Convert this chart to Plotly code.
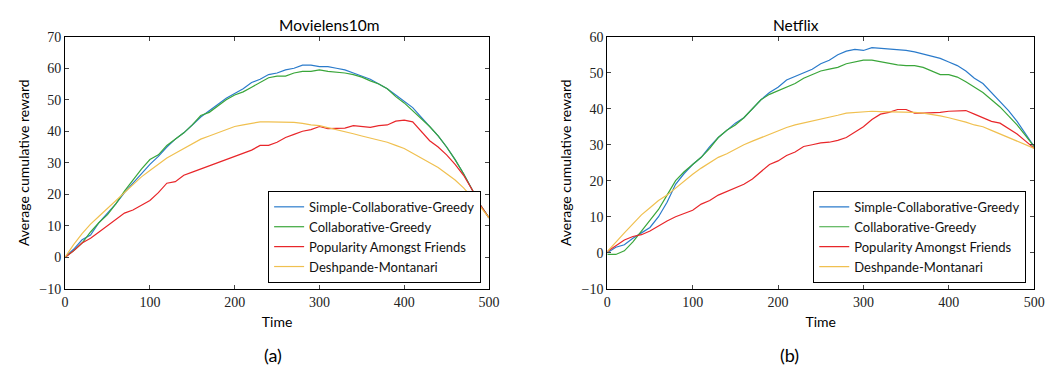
import plotly.graph_objects as go

t = list(range(0, 501, 10))
names = ["Simple-Collaborative-Greedy", "Collaborative-Greedy",
         "Popularity Amongst Friends", "Deshpande-Montanari"]
colors = ["#2b7bcb", "#3aa63a", "#e8262a", "#f0c050"]

ml_scg = [0, 2.5, 5.5, 7, 11, 14, 17, 20.5, 23.5, 26.5, 29.5, 32, 35, 37.5, 39.5, 42, 44.5, 46.5, 48.5, 50.5,
          52, 53.5, 55.5, 56.5, 58, 58.5, 59.5, 60, 61, 61, 60.5, 60.5, 60, 59.5, 58.5, 57.5, 56.5, 55, 53.5, 51.5,
          49.5, 47.5, 44.5, 41.5, 38.5, 35, 31, 26.5, 21.5, 16.5, 12.5]
ml_cg = [0, 2, 4.5, 8, 11, 13.5, 17, 21, 24.5, 28, 31, 32.5, 35.5, 37.5, 39.5, 42, 45, 46, 48, 50,
         51.5, 52.5, 54, 55.5, 57, 57.5, 57.5, 58.5, 59, 59, 59.5, 59, 58.8, 58.5, 58, 57.2, 56, 55, 53.5, 51,
         49, 46.5, 44, 41.5, 38.5, 35, 31, 26.5, 21.5, 16.5, 12.5]
ml_paf = [0, 2, 4.5, 6, 8, 10, 12, 14, 15, 16.5, 18, 20.5, 23.5, 24, 26, 27, 28, 29, 30, 31,
          32, 33, 34, 35.5, 35.5, 36.5, 38, 39, 40, 40.5, 41.5, 40.8, 40.8, 41, 41.8, 41.5, 41.2, 41.8, 42, 43.2,
          43.5, 43, 40, 37, 35, 32.5, 29.5, 26, 21.5, 16.5, 12.5]
ml_dm = [0, 4, 7.5, 10.5, 13, 15.5, 18, 20.5, 23, 25.5, 27.5, 29.5, 31.5, 33, 34.5, 36, 37.5, 38.5, 39.5, 40.5,
         41.5, 42, 42.5, 43, 43, 43, 43, 42.8, 42.5, 42, 41.8, 41.2, 40.5, 40, 39.2, 38.5, 37.8, 37, 36.5, 35.5,
         34.5, 33, 31.5, 30, 28.5, 26.5, 24.5, 22, 19, 16, 12.5]

nf_scg = [0, 1.5, 2.2, 4, 5.5, 7, 10, 14, 19, 22, 24.5, 26.5, 29.5, 32, 34, 36, 37.5, 40, 42.5, 44.5,
          46, 48, 49, 50, 51, 52.5, 53.5, 55, 56, 56.5, 56.2, 57, 56.8, 56.8, 56.5, 56.2, 55.8, 55.2, 54.5, 54,
          53, 52, 50.5, 48.5, 47, 44.5, 42, 39.5, 36.5, 33, 29.5]
nf_cg = [-0.5, -0.5, 0.5, 3, 6, 9, 12, 16, 20, 22.5, 24.5, 26.5, 29, 32, 34, 35.5, 37.5, 40, 42.5, 44,
         45, 46, 47, 48.5, 49.5, 50.5, 51, 51.5, 52.5, 53, 53.5, 53.5, 53, 52.5, 52.2, 52, 52, 51.5, 50.5, 49.5,
         49.5, 48.8, 47.5, 46, 44.5, 42.5, 40.5, 38, 35.5, 32.5, 29.5]
nf_paf = [0.3, 2, 3.5, 4.5, 5, 6, 7.5, 8.8, 10, 11, 11.8, 13.5, 14.5, 16, 17, 18, 19, 20.5, 22.5, 24.5,
          25.5, 27, 28, 29.5, 30, 30.5, 30.7, 31.2, 32, 33.5, 35, 37, 38.5, 39, 39.8, 39.8, 38.8, 38.8, 38.8, 39,
          39.3, 39.5, 39.5, 38.5, 37.5, 36.5, 36, 34.5, 33, 31, 29]
nf_dm = [0.3, 3, 5.5, 8, 10.5, 12.5, 14.5, 16, 18, 20, 21.8, 23.5, 25, 26.5, 27.5, 28.8, 30, 31, 32, 33,
         33.8, 34.8, 35.5, 36, 36.5, 37, 37.5, 38.2, 38.8, 39, 39.2, 39.3, 39.2, 39.2, 39.2, 39.2, 39, 38.8, 38.5, 38,
         37.5, 37, 36.3, 35.5, 35, 34, 33, 32, 31, 30, 29]

panels = [
    dict(title="Movielens10m", series=[ml_scg, ml_cg, ml_paf, ml_dm], yr=[-10, 70], tag="(a)"),
    dict(title="Netflix", series=[nf_scg, nf_cg, nf_paf, nf_dm], yr=[-10, 60], tag="(b)"),
]

W, H = 1055, 387
xdoms = [[62 / W, 492 / W], [612 / W, 1045 / W]]
ydom = [(H - 293) / H, (H - 31) / H]

fig = go.Figure()
serif = "Liberation Serif, serif"
sans = "Lato"

for i, p in enumerate(panels):
    xa = "x" if i == 0 else "x2"
    ya = "y" if i == 0 else "y2"
    lg = "legend" if i == 0 else "legend2"
    for name, col, ys in zip(names, colors, p["series"]):
        fig.add_trace(go.Scatter(x=t, y=ys, mode="lines", name=name, line=dict(color=col, width=1.2),
                                 xaxis=xa, yaxis=ya, legend=lg))
    ax = dict(domain=xdoms[i], range=[0, 500], dtick=100, ticks="inside", ticklen=4, mirror="allticks",
              showline=True, linecolor="black", linewidth=1.2, showgrid=False, zeroline=False,
              tickfont=dict(family=serif, size=14, color="#222"),
              title=dict(text="Time", font=dict(family=sans, size=14, color="black"), standoff=8))
    ay = dict(domain=ydom, range=p["yr"], dtick=10, ticks="inside", ticklen=4, mirror="allticks",
              showline=True, linecolor="black", linewidth=1.2, showgrid=False, zeroline=False,
              tickfont=dict(family=serif, size=14, color="#222"),
              title=dict(text="Average cumulative reward", font=dict(family=sans, size=14, color="black"),
                         standoff=6))
    if i == 0:
        fig.update_layout(xaxis=dict(ax, anchor="y"), yaxis=dict(ay, anchor="x"))
    else:
        fig.update_layout(xaxis2=dict(ax, anchor="y2"), yaxis2=dict(ay, anchor="x2"))
    cx = (xdoms[i][0] + xdoms[i][1]) / 2
    fig.add_annotation(text=p["title"], x=cx, y=ydom[1], xref="paper", yref="paper", yanchor="bottom",
                       showarrow=False, yshift=1, font=dict(family=sans, size=15.5, color="black"))
    fig.add_annotation(text=p["tag"], x=[262, 808][i] / W, y=(H - 376) / H, xref="paper", yref="paper",
                       showarrow=False, font=dict(family=sans, size=18, color="black"))

legstyle = dict(bgcolor="white", bordercolor="black", borderwidth=1, font=dict(family=sans, size=13, color="#111"),
                xanchor="right", yanchor="bottom", tracegroupgap=0, itemwidth=30)
fig.update_layout(
    legend=dict(legstyle, x=484 / W, y=(H - 287) / H),
    legend2=dict(legstyle, x=1037 / W, y=(H - 287) / H),
    width=W, height=H, margin=dict(l=0, r=0, t=0, b=0),
    plot_bgcolor="white", paper_bgcolor="white", showlegend=True,
)

fig.write_html("out.html")
